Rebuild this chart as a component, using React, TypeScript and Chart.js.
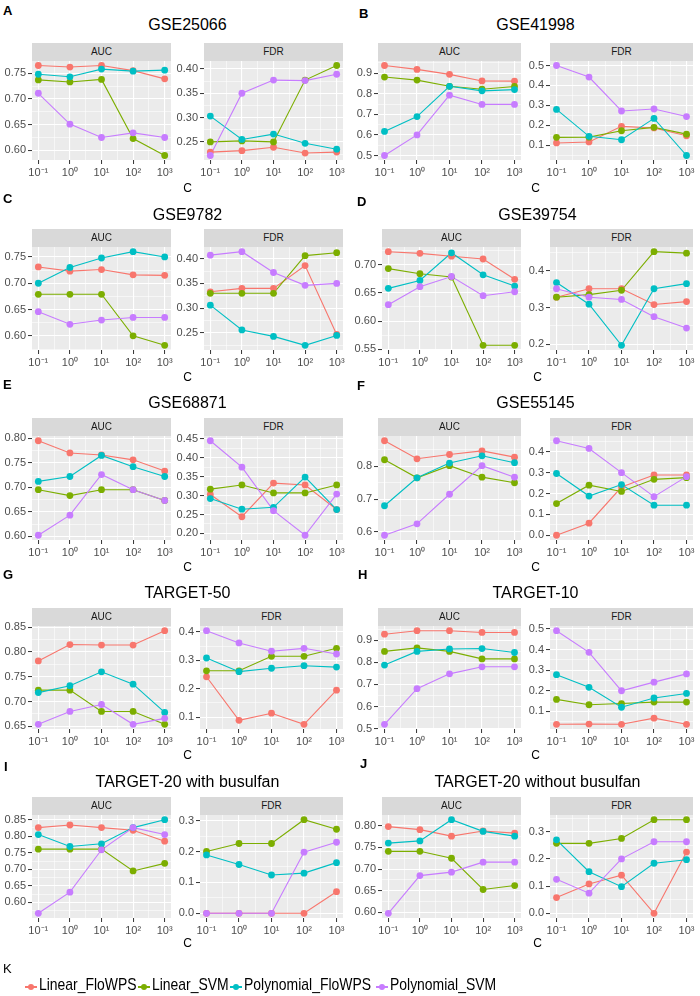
import React, { useEffect, useRef } from "react";
import { Chart, registerables } from "chart.js";

Chart.register(...registerables);

const FONT = "'Liberation Sans', Arial, Helvetica, sans-serif";
Chart.defaults.font.family = FONT;

// ---------- data ----------
const SERIES = ["Linear_FloWPS", "Linear_SVM", "Polynomial_FloWPS", "Polynomial_SVM"];
const SERIES_COLORS = ["#F8766D", "#7CAE00", "#00BFC4", "#C77CFF"];
const C_LOG10 = [-1, 0, 1, 2, 3];
const C_TICK_LABELS = ["10⁻¹", "10⁰", "10¹", "10²", "10³"];
const METRICS = ["AUC", "FDR"];

// rows follow SERIES order, columns follow C_LOG10
const GSE25066_AUC = [
  [0.765, 0.762, 0.765, 0.755, 0.739],
  [0.737, 0.733, 0.738, 0.623, 0.59],
  [0.748, 0.743, 0.758, 0.754, 0.756],
  [0.711, 0.651, 0.625, 0.634, 0.625],
];
const GSE25066_FDR = [
  [0.229, 0.232, 0.239, 0.227, 0.229],
  [0.25, 0.252, 0.25, 0.377, 0.407],
  [0.303, 0.255, 0.266, 0.247, 0.235],
  [0.222, 0.35, 0.377, 0.376, 0.389],
];
const GSE41998_AUC = [
  [0.937, 0.918, 0.894, 0.862, 0.861],
  [0.881, 0.866, 0.836, 0.822, 0.835],
  [0.617, 0.689, 0.836, 0.814, 0.82],
  [0.5, 0.6, 0.793, 0.748, 0.748],
];
const GSE41998_FDR = [
  [0.112, 0.117, 0.195, 0.187, 0.148],
  [0.14, 0.141, 0.173, 0.19, 0.156],
  [0.28, 0.145, 0.128, 0.235, 0.049],
  [0.5, 0.442, 0.272, 0.282, 0.244],
];
const GSE9782_AUC = [
  [0.731, 0.723, 0.726, 0.716, 0.715],
  [0.679, 0.679, 0.679, 0.6, 0.582],
  [0.7, 0.73, 0.748, 0.76, 0.75],
  [0.646, 0.622, 0.63, 0.635, 0.635],
];
const GSE9782_FDR = [
  [0.333, 0.34, 0.34, 0.386, 0.247],
  [0.33, 0.33, 0.33, 0.406, 0.412],
  [0.306, 0.256, 0.243, 0.225, 0.245],
  [0.407, 0.414, 0.372, 0.346, 0.35],
];
const GSE39754_AUC = [
  [0.723, 0.72, 0.715, 0.71, 0.674],
  [0.693, 0.684, 0.678, 0.557, 0.557],
  [0.658, 0.672, 0.721, 0.682, 0.662],
  [0.629, 0.661, 0.679, 0.645, 0.652],
];
const GSE39754_FDR = [
  [0.328, 0.351, 0.351, 0.308, 0.316],
  [0.328, 0.335, 0.347, 0.452, 0.448],
  [0.368, 0.309, 0.197, 0.351, 0.365],
  [0.351, 0.328, 0.322, 0.275, 0.244],
];
const GSE68871_AUC = [
  [0.795, 0.77, 0.766, 0.756, 0.733],
  [0.695, 0.683, 0.695, 0.695, 0.673],
  [0.712, 0.722, 0.765, 0.742, 0.722],
  [0.602, 0.643, 0.726, 0.695, 0.673],
];
const GSE68871_FDR = [
  [0.303, 0.244, 0.333, 0.328, 0.263],
  [0.317, 0.328, 0.307, 0.307, 0.328],
  [0.292, 0.264, 0.269, 0.349, 0.263],
  [0.445, 0.375, 0.26, 0.195, 0.304],
];
const GSE55145_AUC = [
  [0.878, 0.823, 0.836, 0.847, 0.828],
  [0.82, 0.765, 0.802, 0.767, 0.75],
  [0.68, 0.765, 0.81, 0.832, 0.811],
  [0.59, 0.625, 0.715, 0.802, 0.767],
];
const GSE55145_FDR = [
  [0.0, 0.058, 0.231, 0.289, 0.289],
  [0.152, 0.24, 0.21, 0.268, 0.276],
  [0.296, 0.188, 0.243, 0.144, 0.144],
  [0.453, 0.416, 0.3, 0.185, 0.281],
];
const TARGET50_AUC = [
  [0.782, 0.815, 0.814, 0.814, 0.843],
  [0.723, 0.723, 0.68, 0.68, 0.654],
  [0.718, 0.732, 0.76, 0.735, 0.678],
  [0.654, 0.68, 0.694, 0.654, 0.666],
];
const TARGET50_FDR = [
  [0.242, 0.089, 0.114, 0.075, 0.195],
  [0.263, 0.263, 0.314, 0.314, 0.342],
  [0.308, 0.26, 0.272, 0.281, 0.276],
  [0.404, 0.361, 0.332, 0.342, 0.322],
];
const TARGET10_AUC = [
  [0.928, 0.944, 0.944, 0.936, 0.936],
  [0.85, 0.866, 0.85, 0.816, 0.816],
  [0.788, 0.85, 0.861, 0.863, 0.845],
  [0.519, 0.681, 0.748, 0.78, 0.78],
];
const TARGET10_FDR = [
  [0.037, 0.038, 0.037, 0.067, 0.037],
  [0.158, 0.132, 0.138, 0.145, 0.145],
  [0.278, 0.217, 0.12, 0.165, 0.187],
  [0.492, 0.387, 0.2, 0.242, 0.282],
];
const TARGET20_BU_AUC = [
  [0.826, 0.834, 0.826, 0.818, 0.785],
  [0.761, 0.761, 0.761, 0.695, 0.718],
  [0.805, 0.769, 0.777, 0.826, 0.85],
  [0.567, 0.631, 0.759, 0.826, 0.805],
];
const TARGET20_BU_FDR = [
  [0.0, 0.0, 0.0, 0.0, 0.07],
  [0.2, 0.226, 0.226, 0.303, 0.272],
  [0.189, 0.158, 0.124, 0.13, 0.164],
  [0.0, 0.0, 0.0, 0.198, 0.23],
];
const TARGET20_NOBU_AUC = [
  [0.798, 0.791, 0.776, 0.788, 0.783],
  [0.741, 0.741, 0.725, 0.653, 0.662],
  [0.76, 0.765, 0.814, 0.787, 0.776],
  [0.598, 0.685, 0.693, 0.716, 0.716],
];
const TARGET20_NOBU_FDR = [
  [0.058, 0.108, 0.14, 0.0, 0.225],
  [0.257, 0.257, 0.275, 0.344, 0.344],
  [0.27, 0.153, 0.098, 0.184, 0.197],
  [0.125, 0.074, 0.2, 0.263, 0.263],
];

// y tick labels
const TICKS_060_075 = ["0.60", "0.65", "0.70", "0.75"];
const TICKS_025_040 = ["0.25", "0.30", "0.35", "0.40"];
const TICKS_05_09 = ["0.5", "0.6", "0.7", "0.8", "0.9"];
const TICKS_01_05 = ["0.1", "0.2", "0.3", "0.4", "0.5"];
const TICKS_055_070 = ["0.55", "0.60", "0.65", "0.70"];
const TICKS_02_04 = ["0.2", "0.3", "0.4"];
const TICKS_060_080 = ["0.60", "0.65", "0.70", "0.75", "0.80"];
const TICKS_020_045 = ["0.20", "0.25", "0.30", "0.35", "0.40", "0.45"];
const TICKS_06_08 = ["0.6", "0.7", "0.8"];
const TICKS_00_04 = ["0.0", "0.1", "0.2", "0.3", "0.4"];
const TICKS_065_085 = ["0.65", "0.70", "0.75", "0.80", "0.85"];
const TICKS_01_04 = ["0.1", "0.2", "0.3", "0.4"];
const TICKS_060_085 = ["0.60", "0.65", "0.70", "0.75", "0.80", "0.85"];
const TICKS_00_03 = ["0.0", "0.1", "0.2", "0.3"];

const PANEL_LETTERS = ["A", "B", "C", "D", "E", "F", "G", "H", "I", "J"];
const PANEL_TITLES = [
  "GSE25066", "GSE41998", "GSE9782", "GSE39754", "GSE68871",
  "GSE55145", "TARGET-50", "TARGET-10", "TARGET-20 with busulfan", "TARGET-20 without busulfan",
];
const PANEL_AUC = [
  GSE25066_AUC, GSE41998_AUC, GSE9782_AUC, GSE39754_AUC, GSE68871_AUC,
  GSE55145_AUC, TARGET50_AUC, TARGET10_AUC, TARGET20_BU_AUC, TARGET20_NOBU_AUC,
];
const PANEL_FDR = [
  GSE25066_FDR, GSE41998_FDR, GSE9782_FDR, GSE39754_FDR, GSE68871_FDR,
  GSE55145_FDR, TARGET50_FDR, TARGET10_FDR, TARGET20_BU_FDR, TARGET20_NOBU_FDR,
];
const PANEL_AUC_TICKS = [
  TICKS_060_075, TICKS_05_09, TICKS_060_075, TICKS_055_070, TICKS_060_080,
  TICKS_06_08, TICKS_065_085, TICKS_05_09, TICKS_060_085, TICKS_060_080,
];
const PANEL_FDR_TICKS = [
  TICKS_025_040, TICKS_01_05, TICKS_025_040, TICKS_02_04, TICKS_020_045,
  TICKS_00_04, TICKS_01_04, TICKS_01_05, TICKS_00_03, TICKS_00_03,
];

// ---------- layout ----------
const ROWS = [
  { title: 25, strip: 43, top: 61, bottom: 160, xlab: 188 },
  { title: 215, strip: 229, top: 247, bottom: 350, xlab: 377 },
  { title: 403, strip: 418, top: 436, bottom: 540, xlab: 567 },
  { title: 593, strip: 608, top: 626, bottom: 729, xlab: 755 },
  { title: 782, strip: 797, top: 815, bottom: 918, xlab: 943 },
];
const LETTER_POS = [
  [3, 11], [359, 14], [3, 199], [357, 202], [3, 385],
  [357, 386], [3, 575], [358, 575], [4, 767], [360, 764],
];

const AXW = 40;
const PADT = 8;
const PADR = 14;
const XAXH = 24;

const bgPlugin = {
  id: "panelBg",
  beforeDraw(chart: any) {
    const { ctx, chartArea: a } = chart;
    ctx.save();
    ctx.fillStyle = "#EBEBEB";
    ctx.fillRect(a.left, a.top, a.right - a.left, a.bottom - a.top);
    ctx.restore();
  },
};

type FacetProps = {
  left: number;
  top: number;
  plotW: number;
  plotH: number;
  values: number[][];
  tickLabels: string[];
};

function Facet({ left, top, plotW, plotH, values, tickLabels }: FacetProps) {
  const ref = useRef<HTMLCanvasElement>(null);
  const cw = AXW + plotW + PADR;
  const ch = PADT + plotH + XAXH;
  useEffect(() => {
    const all = values.flat();
    const lo = Math.min(...all);
    const hi = Math.max(...all);
    const pad = (hi - lo) * 0.05;
    const ymin = lo - pad;
    const ymax = hi + pad;
    const majors = tickLabels.map(Number);
    const step = majors[1] - majors[0];
    const yTicks: any[] = majors.map((v, i) => ({ value: v, label: tickLabels[i], minor: false }));
    for (let k = -1; k <= majors.length + 1; k++) {
      const v = majors[0] + (k + 0.5) * step;
      if (v >= ymin && v <= ymax) yTicks.push({ value: v, label: "", minor: true });
    }
    yTicks.sort((a, b) => a.value - b.value);
    const xTicks: any[] = [];
    C_LOG10.forEach((v, i) => {
      xTicks.push({ value: v, label: C_TICK_LABELS[i], minor: false });
      if (i < C_LOG10.length - 1) xTicks.push({ value: v + 0.5, label: "", minor: true });
    });

    const lineSets = values.map((row, i) => ({
      label: SERIES[i],
      data: row.map((v, j) => ({ x: C_LOG10[j], y: v })),
      borderColor: SERIES_COLORS[i],
      backgroundColor: SERIES_COLORS[i],
      borderWidth: 1.1,
      pointRadius: 0,
      showLine: true,
      order: 20 - i,
      clip: false,
    }));
    const pointSets = values.map((row, i) => ({
      label: SERIES[i] + " points",
      data: row.map((v, j) => ({ x: C_LOG10[j], y: v })),
      borderColor: SERIES_COLORS[i],
      backgroundColor: SERIES_COLORS[i],
      pointRadius: 3.4,
      pointBorderWidth: 0,
      showLine: false,
      order: 10 - i,
      clip: false,
    }));

    const gridCommon = {
      color: "#FFFFFF",
      lineWidth: (c: any) => (c.tick && c.tick.minor ? 0.55 : 1.1),
      tickColor: (c: any) => (c.tick && c.tick.minor ? "rgba(0,0,0,0)" : "#333333"),
      tickLength: 4,
      tickWidth: 1,
      drawTicks: true,
    };
    const tickFont = { size: 11, family: FONT };

    const chart = new Chart(ref.current as HTMLCanvasElement, {
      type: "scatter",
      data: { datasets: [...lineSets, ...pointSets] as any },
      plugins: [bgPlugin],
      options: {
        responsive: false,
        animation: false,
        events: [],
        layout: { padding: { top: PADT, right: PADR, left: 0, bottom: 0 } },
        plugins: { legend: { display: false }, tooltip: { enabled: false } },
        scales: {
          x: {
            type: "linear",
            min: -1.2,
            max: 3.2,
            afterBuildTicks: (s: any) => {
              s.ticks = xTicks.map((t) => ({ ...t }));
            },
            afterFit: (s: any) => {
              s.height = XAXH;
              s.paddingLeft = 0;
              s.paddingRight = 0;
            },
            ticks: {
              autoSkip: false,
              maxRotation: 0,
              minRotation: 0,
              padding: 2,
              color: "#4D4D4D",
              font: tickFont,
              callback: (_v: any, i: number, t: any[]) => t[i].label,
            },
            grid: gridCommon,
            border: { display: false },
          },
          y: {
            type: "linear",
            min: ymin,
            max: ymax,
            afterBuildTicks: (s: any) => {
              s.ticks = yTicks.map((t) => ({ ...t }));
            },
            afterFit: (s: any) => {
              s.width = AXW;
              s.paddingTop = 0;
              s.paddingBottom = 0;
            },
            ticks: {
              autoSkip: false,
              padding: 2,
              color: "#4D4D4D",
              font: tickFont,
              callback: (_v: any, i: number, t: any[]) => t[i].label,
            },
            grid: gridCommon,
            border: { display: false },
          },
        },
      } as any,
    });
    return () => chart.destroy();
  }, []);
  return (
    <canvas
      ref={ref}
      width={cw}
      height={ch}
      style={{ position: "absolute", left: left - AXW, top: top - PADT, width: cw, height: ch }}
    />
  );
}

function Panel({ index }: { index: number }) {
  const row = ROWS[Math.floor(index / 2)];
  const px = (index % 2) * 350;
  const aucTicks = PANEL_AUC_TICKS[index];
  const fdrTicks = PANEL_FDR_TICKS[index];
  const aucLen = Math.max(...aucTicks.map((s) => s.length));
  const fdrLen = Math.max(...fdrTicks.map((s) => s.length));
  const L1 = px + (aucLen >= 4 ? 32 : 28);
  const R1 = px + 171;
  const L2 = px + (fdrLen >= 4 ? 204 : 200);
  const R2 = px + 343;
  const cx = (L1 + R2) / 2;
  const plotH = row.bottom - row.top;
  const stripH = row.top - row.strip;
  const facets = [
    { L: L1, R: R1, values: PANEL_AUC[index], ticks: aucTicks, name: METRICS[0] },
    { L: L2, R: R2, values: PANEL_FDR[index], ticks: fdrTicks, name: METRICS[1] },
  ];
  const [lx, ly] = LETTER_POS[index];
  return (
    <>
      <div
        style={{
          position: "absolute", left: lx, top: ly - 9, height: 18, lineHeight: "18px",
          fontSize: 13, fontWeight: "bold", fontFamily: FONT, color: "#000",
        }}
      >
        {PANEL_LETTERS[index]}
      </div>
      <div
        style={{
          position: "absolute", left: cx - 170, width: 340, top: row.title - 10, height: 20,
          lineHeight: "20px", textAlign: "center", fontSize: 16, fontFamily: FONT, color: "#000",
          whiteSpace: "nowrap",
        }}
      >
        {PANEL_TITLES[index]}
      </div>
      {facets.map((f) => (
        <React.Fragment key={f.name}>
          <div
            style={{
              position: "absolute", left: f.L, top: row.strip, width: f.R - f.L, height: stripH,
              background: "#D9D9D9", color: "#1A1A1A", fontSize: 10, fontFamily: FONT,
              lineHeight: stripH + "px", textAlign: "center",
            }}
          >
            {f.name}
          </div>
          <Facet
            left={f.L}
            top={row.top}
            plotW={f.R - f.L}
            plotH={plotH}
            values={f.values}
            tickLabels={f.ticks}
          />
        </React.Fragment>
      ))}
      <div
        style={{
          position: "absolute", left: cx - 20, width: 40, top: row.xlab - 8, height: 16,
          lineHeight: "16px", textAlign: "center", fontSize: 12, fontFamily: FONT, color: "#000",
        }}
      >
        C
      </div>
    </>
  );
}

const LEGEND_KEY_X = [25, 138, 230, 376];

function Legend() {
  return (
    <>
      <div
        style={{
          position: "absolute", left: 3, top: 960, height: 18, lineHeight: "18px",
          fontSize: 13, fontFamily: FONT, color: "#000",
        }}
      >
        K
      </div>
      {SERIES.map((s, i) => (
        <React.Fragment key={s}>
          <div
            style={{
              position: "absolute", left: LEGEND_KEY_X[i], top: 986.4, width: 12, height: 1.2,
              background: SERIES_COLORS[i],
            }}
          />
          <div
            style={{
              position: "absolute", left: LEGEND_KEY_X[i] + 2.75, top: 983.75, width: 6.5, height: 6.5,
              borderRadius: "50%", background: SERIES_COLORS[i],
            }}
          />
          <div
            style={{
              position: "absolute", left: LEGEND_KEY_X[i] + 14, top: 975, height: 20,
              lineHeight: "20px", fontSize: 17, fontFamily: FONT, color: "#000",
              whiteSpace: "nowrap", transform: "scaleX(0.82)", transformOrigin: "0 50%",
            }}
          >
            {s}
          </div>
        </React.Fragment>
      ))}
    </>
  );
}

export default function App() {
  return (
    <div
      style={{
        position: "absolute", left: 0, top: 0, width: 700, height: 996,
        background: "#FFFFFF", overflow: "hidden",
      }}
    >
      {PANEL_TITLES.map((_, i) => (
        <Panel key={i} index={i} />
      ))}
      <Legend />
    </div>
  );
}
